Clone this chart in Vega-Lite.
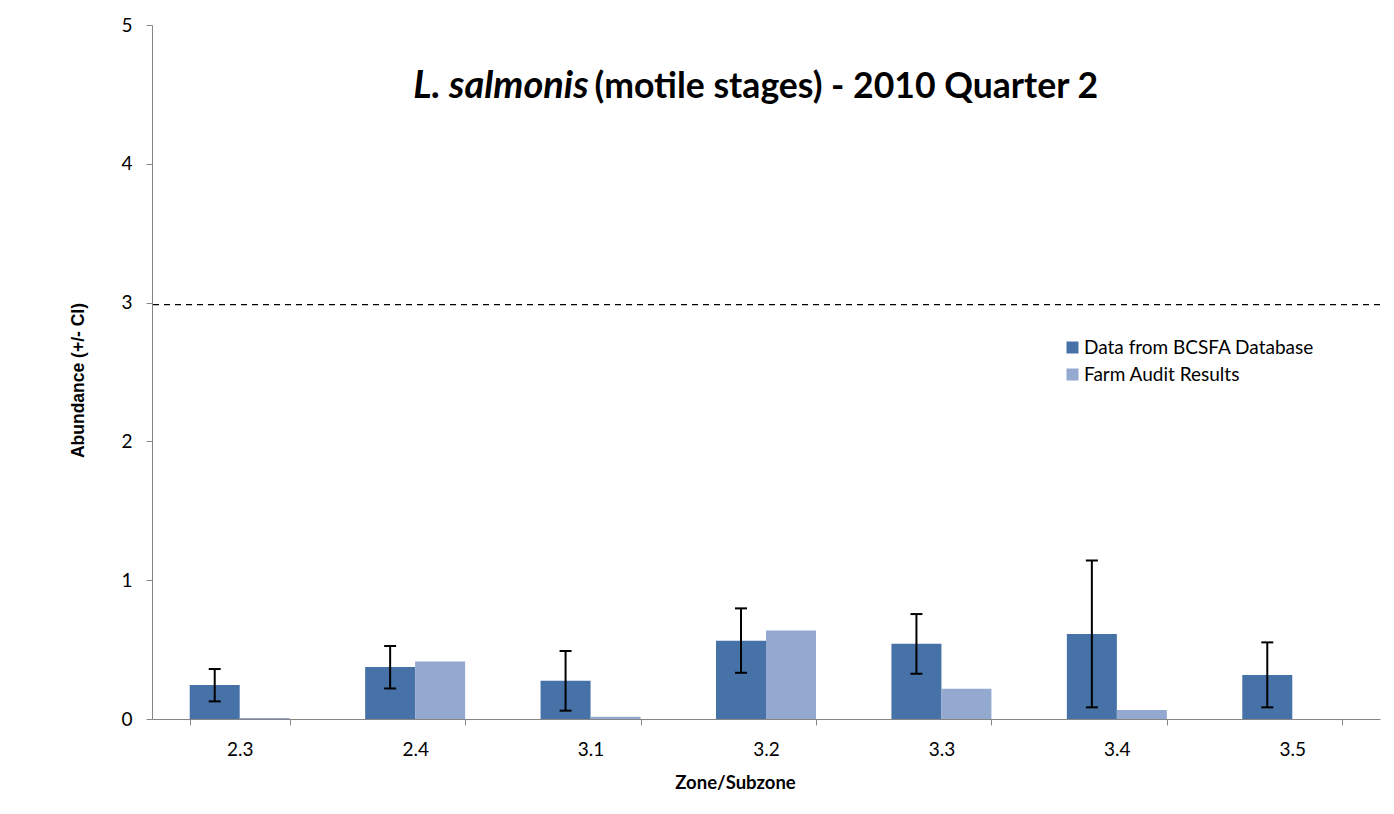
{
  "$schema": "https://vega.github.io/schema/vega-lite/v6.json",
  "width": 1228,
  "height": 694,
  "autosize": {"type": "none"},
  "padding": {"left": 152, "top": 25, "right": 14, "bottom": 95},
  "background": "white",
  "config": {
    "view": {"stroke": null},
    "font": "Lato",
    "axis": {"domainColor": "#868686", "tickColor": "#868686", "grid": false, "labelColor": "black", "titleColor": "black", "labelFont": "Lato", "labelFontSize": 19}
  },
  "datasets": {
    "bars": [
      {"zone": "2.3", "series": "Data from BCSFA Database", "value": 0.245, "lo": 0.127, "hi": 0.36},
      {"zone": "2.3", "series": "Farm Audit Results", "value": 0.008},
      {"zone": "2.4", "series": "Data from BCSFA Database", "value": 0.375, "lo": 0.22, "hi": 0.526},
      {"zone": "2.4", "series": "Farm Audit Results", "value": 0.415},
      {"zone": "3.1", "series": "Data from BCSFA Database", "value": 0.276, "lo": 0.06, "hi": 0.49},
      {"zone": "3.1", "series": "Farm Audit Results", "value": 0.017},
      {"zone": "3.2", "series": "Data from BCSFA Database", "value": 0.564, "lo": 0.333, "hi": 0.797},
      {"zone": "3.2", "series": "Farm Audit Results", "value": 0.638},
      {"zone": "3.3", "series": "Data from BCSFA Database", "value": 0.542, "lo": 0.326, "hi": 0.756},
      {"zone": "3.3", "series": "Farm Audit Results", "value": 0.218},
      {"zone": "3.4", "series": "Data from BCSFA Database", "value": 0.612, "lo": 0.084, "hi": 1.142},
      {"zone": "3.4", "series": "Farm Audit Results", "value": 0.065},
      {"zone": "3.5", "series": "Data from BCSFA Database", "value": 0.317, "lo": 0.084, "hi": 0.552},
      {"zone": "3.5", "series": "Farm Audit Results", "value": 0}
    ],
    "threshold": [{"limit": 2.985}],
    "titles": [
      {"part": "L. salmonis", "style": "italic", "zone": "3.1", "yv": 4.55},
      {"part": "(motile stages) - 2010 Quarter 2", "style": "normal", "zone": "3.1", "yv": 4.55}
    ]
  },
  "layer": [
    {
      "data": {"name": "bars"},
      "mark": {"type": "bar"},
      "encoding": {
        "x": {
          "field": "zone", "type": "nominal", "sort": null,
          "scale": {"paddingInner": 0.43, "paddingOuter": 0.215},
          "axis": {"title": "Zone/Subzone", "labelAngle": 0, "tickBand": "extent", "tickSize": 6, "labelPadding": 15,
                   "titleFont": "Lato", "titleFontWeight": "bold", "titleFontSize": 18.5,
                   "titleX": 583, "titleY": 63, "titleBaseline": "middle", "titleAlign": "center"}
        },
        "xOffset": {"field": "series", "type": "nominal", "sort": null, "scale": {"paddingInner": 0, "paddingOuter": 0}},
        "y": {
          "field": "value", "type": "quantitative",
          "scale": {"domain": [0, 5], "nice": false},
          "axis": {"values": [0, 1, 2, 3, 4, 5], "format": "d", "title": "Abundance (+/- CI)", "tickSize": 6, "labelPadding": 14,
                   "titleFont": "Liberation Sans", "titleFontWeight": "bold", "titleFontSize": 17.5,
                   "titleX": -74, "titleY": 355, "titleAngle": 270, "titleAlign": "center", "titleBaseline": "middle"}
        },
        "color": {
          "field": "series", "type": "nominal", "sort": null,
          "scale": {"range": ["#4672A8", "#94A9D0"]},
          "legend": {"title": null, "orient": "none", "legendX": 911, "legendY": 313, "symbolType": "square", "symbolSize": 144,
                     "symbolStrokeWidth": 0, "labelFont": "Lato", "labelFontSize": 19, "labelColor": "black", "labelLimit": 400,
                     "rowPadding": 7, "labelOffset": 2, "padding": 0}
        }
      }
    },
    {
      "data": {"name": "bars"},
      "transform": [{"filter": "datum.series === 'Data from BCSFA Database'"}],
      "mark": {"type": "rule", "color": "black", "strokeWidth": 2},
      "encoding": {
        "x": {"field": "zone", "type": "nominal", "sort": null},
        "xOffset": {"field": "series", "type": "nominal", "sort": null},
        "y": {"field": "lo", "type": "quantitative"},
        "y2": {"field": "hi"}
      }
    },
    {
      "data": {"name": "bars"},
      "transform": [{"filter": "datum.series === 'Data from BCSFA Database'"}],
      "mark": {"type": "tick", "color": "black", "thickness": 2, "size": 12, "opacity": 1},
      "encoding": {
        "x": {"field": "zone", "type": "nominal", "sort": null},
        "xOffset": {"field": "series", "type": "nominal", "sort": null},
        "y": {"field": "hi", "type": "quantitative"}
      }
    },
    {
      "data": {"name": "bars"},
      "transform": [{"filter": "datum.series === 'Data from BCSFA Database'"}],
      "mark": {"type": "tick", "color": "black", "thickness": 2, "size": 12, "opacity": 1},
      "encoding": {
        "x": {"field": "zone", "type": "nominal", "sort": null},
        "xOffset": {"field": "series", "type": "nominal", "sort": null},
        "y": {"field": "lo", "type": "quantitative"}
      }
    },
    {
      "data": {"name": "threshold"},
      "mark": {"type": "rule", "color": "black", "strokeWidth": 1.3, "strokeDash": [6, 5]},
      "encoding": {"y": {"field": "limit", "type": "quantitative"}}
    },
    {
      "data": {"name": "titles"},
      "transform": [{"filter": "datum.style === 'italic'"}],
      "mark": {"type": "text", "font": "Lato", "fontSize": 38, "fontWeight": "bold", "fontStyle": "italic", "align": "right", "baseline": "middle", "dx": -2, "color": "black"},
      "encoding": {
        "x": {"field": "zone", "type": "nominal", "sort": null},
        "y": {"field": "yv", "type": "quantitative"},
        "text": {"field": "part"}
      }
    },
    {
      "data": {"name": "titles"},
      "transform": [{"filter": "datum.style === 'normal'"}],
      "mark": {"type": "text", "font": "Lato", "fontSize": 35.6, "fontWeight": "bold", "align": "left", "baseline": "middle", "dx": 4, "color": "black"},
      "encoding": {
        "x": {"field": "zone", "type": "nominal", "sort": null},
        "y": {"field": "yv", "type": "quantitative"},
        "text": {"field": "part"}
      }
    }
  ]
}
